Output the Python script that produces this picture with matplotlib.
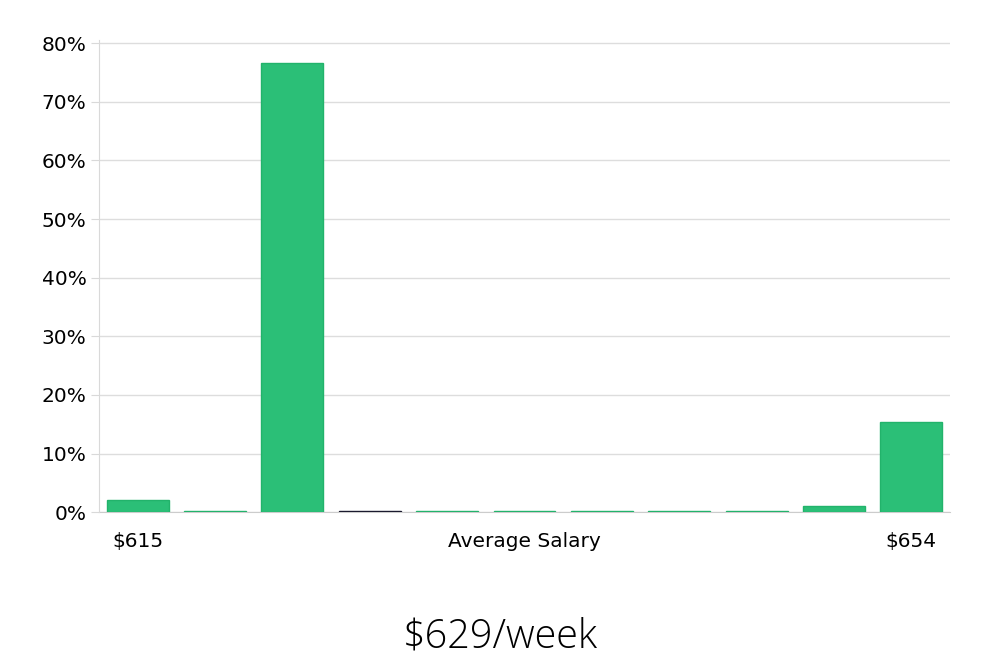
import numpy as np
import matplotlib.pyplot as plt

values = [2.05, 0.25, 76.7, 0.25, 0.25, 0.25, 0.25, 0.25, 0.25, 1.05, 15.4]
colors = ['#2bbf77'] * 11
edges = ['#22b36b'] * 11
edges[3] = '#1a1a2e'
colors[3] = '#1a1a2e'
tick_pos = [0, 5, 10]
tick_labels = ['$615', 'Average Salary', '$654']
title = '$629/week'

fig = plt.figure(figsize=(10, 6.6), dpi=100)
ax = fig.add_axes([0.099, 0.224, 0.851, 0.715])

x = np.arange(len(values))
ax.bar(x, values, width=0.8, color=colors, edgecolor=edges, linewidth=1.0, zorder=3)

ax.set_xlim(-0.5, 10.5)
ax.set_ylim(0, 80.5)
ax.set_yticks(np.arange(0, 81, 10))
ax.set_yticklabels([f'{v}%' for v in range(0, 81, 10)], fontsize=14.5)
ax.set_xticks(tick_pos)
ax.set_xticklabels(tick_labels, fontsize=14.5)
ax.tick_params(axis='x', length=0, pad=14)
ax.tick_params(axis='y', length=6, color='#d9d9d9', pad=3)
ax.grid(axis='y', color='#dddddd', linewidth=1, zorder=0)

for s in ['top', 'right']:
    ax.spines[s].set_visible(False)
ax.spines['left'].set_color('#d9d9d9')
ax.spines['bottom'].set_color('#cccccc')
ax.spines['bottom'].set_zorder(2)

fig.text(0.5, 0.035, title, ha='center', va='center', fontsize=28.5,
         family='Open Sans', fontweight='light')

fig.savefig('out.png', dpi=100)
